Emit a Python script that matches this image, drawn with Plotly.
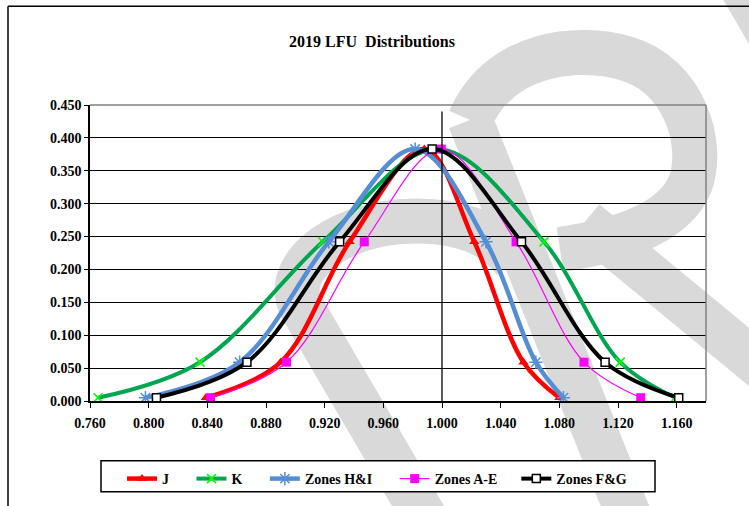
import plotly.graph_objects as go

# ---- data ----
y_levels = [0.005, 0.059, 0.242, 0.383, 0.242, 0.059, 0.005]

j_x = [0.8390, 0.8900, 0.9370, 0.9880, 1.0220, 1.0555, 1.0800]
k_x = [0.7655, 0.8350, 0.9187, 0.9970, 1.0695, 1.1215, 1.1590]
hi_x = [0.7978, 0.8620, 0.9228, 0.9817, 1.0300, 1.0640, 1.0828]
ae_x = [0.8422, 0.8940, 0.9470, 0.9995, 1.0505, 1.0968, 1.1355]
fg_x = [0.8053, 0.8670, 0.9302, 0.9933, 1.0542, 1.1112, 1.1614]

ref_x = [1.0, 1.0]
ref_y = [0.0, 0.44]

x_ticks = [0.76, 0.80, 0.84, 0.88, 0.92, 0.96, 1.00, 1.04, 1.08, 1.12, 1.16]
y_ticks = [0.0, 0.05, 0.10, 0.15, 0.20, 0.25, 0.30, 0.35, 0.40, 0.45]

W, H = 749, 506
ML, MR, MT, MB = 90, 43, 105, 104
PW, PH = W - ML - MR, H - MT - MB

FONT = "Liberation Serif, Times New Roman, serif"
NB = "\u00a0"


def px(x, y):
    return (x - ML) / PW, (H - MB - y) / PH


def path(cmds):
    out = []
    for c in cmds:
        if isinstance(c, str):
            out.append(c)
        else:
            X, Y = px(*c)
            out.append(f"{X:.4f},{Y:.4f}")
    return " ".join(out)


fig = go.Figure()

series = [
    ("J" + NB * 5, j_x, dict(color="#FF0000", width=4.5),
     dict(symbol="triangle-up", size=9, color="#FF0000")),
    ("K" + NB * 5, k_x, dict(color="#00A550", width=4),
     dict(symbol="x-thin", size=9, color="#00FF00", line=dict(color="#00FF00", width=1.6))),
    ("Zones H&I" + NB * 5, hi_x, dict(color="#558ED5", width=4.5),
     dict(symbol="asterisk", size=11, color="#558ED5", line=dict(color="#558ED5", width=1.5))),
    ("Zones A-E" + NB * 4, ae_x, dict(color="#FF00FF", width=1.2),
     dict(symbol="square", size=9, color="#FF00FF")),
    ("Zones F&G", fg_x, dict(color="#000000", width=4),
     dict(symbol="square", size=8, color="white", line=dict(color="black", width=1.5))),
]
for name, xs, line, marker in series:
    fig.add_trace(go.Scatter(
        x=xs, y=y_levels, name=name, mode="lines+markers",
        line=dict(shape="spline", smoothing=1.0, **line), marker=marker,
    ))

fig.add_trace(go.Scatter(x=ref_x, y=ref_y, mode="lines", showlegend=False,
                         line=dict(color="black", width=1.3), hoverinfo="skip"))

GRAY = "#D9D9D9"
shapes = []
# watermark strokes (approximate)
wm = [
    ["M", (440, 545), "L", (300, 305), "C", (285, 270), (330, 228), (400, 222),
     "C", (460, 218), (495, 235), (515, 262)],
    ["M", (640, 545), "L", (470, 120)],
    ["M", (470, 120), "C", (500, 50), (580, 45), (625, 58), "C", (685, 75), (705, 145), (690, 185),
     "C", (675, 220), (630, 240), (560, 250)],
    ["M", (585, 222), "L", (800, 400)],
    ["M", (735, -25), "L", (805, 95)],
]
for p in wm:
    shapes.append(dict(type="path", xref="paper", yref="paper", layer="below",
                       path=path(p), line=dict(color=GRAY, width=45)))

# legend box
lx0, ly0 = px(101, 462)
lx1, ly1 = px(655, 493)
shapes.append(dict(type="rect", xref="paper", yref="paper", layer="below",
                   x0=lx0, y0=ly0, x1=lx1, y1=ly1, fillcolor="white",
                   line=dict(color="black", width=1.5)))

# chart frame (left + top visible)
x0, y0 = px(8, 6)
x1, y1 = px(760, 520)
shapes.append(dict(type="line", xref="paper", yref="paper", x0=x0, y0=y0, x1=x0, y1=y1,
                   line=dict(color="black", width=1.5), layer="above"))
shapes.append(dict(type="line", xref="paper", yref="paper", x0=x0, y0=y0, x1=x1, y1=y0,
                   line=dict(color="black", width=1.5), layer="above"))
# plot area gray border (top, right)
shapes.append(dict(type="line", xref="paper", yref="paper", x0=0, y0=1, x1=1, y1=1,
                   line=dict(color="#808080", width=1.5), layer="above"))
shapes.append(dict(type="line", xref="paper", yref="paper", x0=1, y0=0, x1=1, y1=1,
                   line=dict(color="#808080", width=1.5), layer="above"))

fig.update_layout(
    width=W, height=H,
    margin=dict(l=ML, r=MR, t=MT, b=MB, pad=0),
    paper_bgcolor="white", plot_bgcolor="rgba(0,0,0,0)",
    font=dict(family=FONT, size=14, color="black", weight="bold"),
    title=dict(text="2019 LFU  Distributions", x=(372 - ML) / PW, xref="paper", xanchor="center",
               y=1 - 41 / H, yref="container", yanchor="middle",
               font=dict(family=FONT, size=16, color="black", weight="bold")),
    showlegend=True,
    legend=dict(orientation="h", x=(122 - ML) / PW, xanchor="left",
                y=(H - MB - 479) / PH, yanchor="middle",
                bgcolor="rgba(0,0,0,0)", borderwidth=0,
                font=dict(family=FONT, size=14, color="black", weight="bold"),
                tracegroupgap=0),
    shapes=shapes,
    xaxis=dict(range=[0.76, 1.18], tickmode="array", tickvals=x_ticks,
               ticktext=[f"{v:.3f}" for v in x_ticks],
               showgrid=False, zeroline=False, showline=True, linecolor="black", linewidth=1.5,
               ticks="outside", ticklen=5, tickwidth=1.3, tickcolor="black",
               ticklabelstandoff=3,
               tickfont=dict(family=FONT, size=14, weight="bold")),
    yaxis=dict(range=[0, 0.45], tickmode="array", tickvals=y_ticks,
               ticktext=[f"{v:.3f}" for v in y_ticks],
               showgrid=True, gridcolor="black", gridwidth=1.3, zeroline=False,
               showline=True, linecolor="black", linewidth=1.5,
               ticks="outside", ticklen=4, tickwidth=1.3, tickcolor="black",
               tickfont=dict(family=FONT, size=14, weight="bold")),
)

fig.write_html("out.html")
